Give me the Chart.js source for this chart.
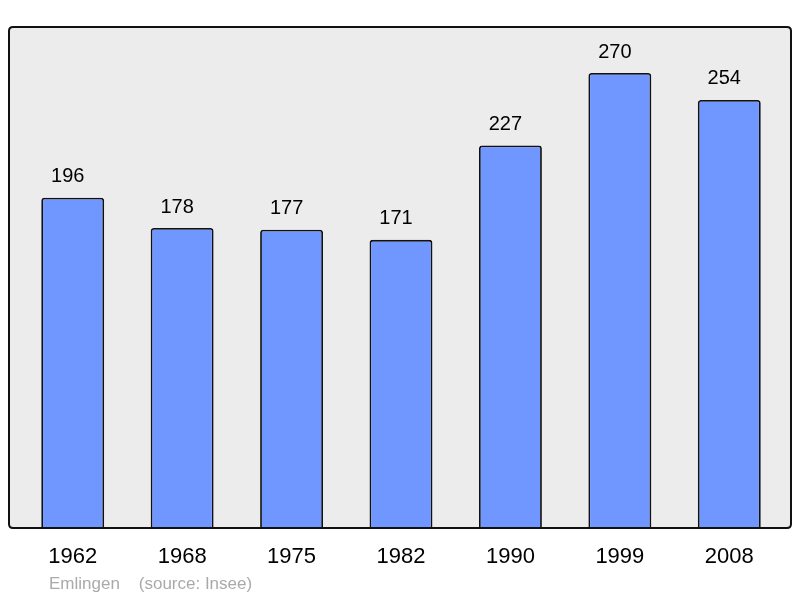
<!DOCTYPE html>
<html><head><meta charset="utf-8">
<script src="https://cdn.jsdelivr.net/npm/chart.js@4"></script>
<style>html,body{margin:0;padding:0;background:#fff}#w{width:800px;height:598px}</style>
</head><body><div id="w"><canvas id="c" width="800" height="598"></canvas></div>
<script>
const categories = ["1962","1968","1975","1982","1990","1999","2008"];
const population = [196,178,177,171,227,270,254];
const sourceText = "Emlingen    (source: Insee)";

function framePath(ctx){
  const x=9,y=27,w=782,h=501,r=4;
  ctx.beginPath();
  ctx.moveTo(x+r,y);ctx.lineTo(x+w-r,y);ctx.quadraticCurveTo(x+w,y,x+w,y+r);
  ctx.lineTo(x+w,y+h-r);ctx.quadraticCurveTo(x+w,y+h,x+w-r,y+h);
  ctx.lineTo(x+r,y+h);ctx.quadraticCurveTo(x,y+h,x,y+h-r);
  ctx.lineTo(x,y+r);ctx.quadraticCurveTo(x,y,x+r,y);ctx.closePath();
}
const framePlugin = {
  id:'frame',
  beforeDraw(chart){
    const ctx = chart.ctx;
    ctx.save();framePath(ctx);ctx.fillStyle='#ececec';ctx.fill();ctx.restore();
  },
  afterDatasetsDraw(chart){
    const ctx = chart.ctx;
    ctx.save();
    framePath(ctx);
    ctx.lineWidth=2;ctx.strokeStyle='#111';ctx.stroke();
    const xs = chart.scales.x, ys = chart.scales.y;
    ctx.fillStyle='#000';ctx.textAlign='center';ctx.textBaseline='middle';
    ctx.font='20px "Liberation Sans", Arial, sans-serif';
    population.forEach((v,i)=>{
      ctx.fillText(String(v), xs.getPixelForValue(i)-5, ys.getPixelForValue(v)-21);
    });
    ctx.font='22px "Liberation Sans", Arial, sans-serif';
    categories.forEach((c,i)=>{
      ctx.fillText(c, xs.getPixelForValue(i), 557);
    });
    ctx.textAlign='left';
    ctx.fillStyle='#aaaaaa';
    ctx.font='17px "Liberation Sans", Arial, sans-serif';
    ctx.fillText(sourceText, 49, 584);
    ctx.restore();
  }
};

new Chart(document.getElementById('c'),{
  type:'bar',
  data:{labels:categories,datasets:[{data:population,backgroundColor:'#7096ff',borderColor:'#111',borderWidth:1.8,borderRadius:3,borderSkipped:'bottom',barPercentage:0.575,categoryPercentage:1}]},
  options:{
    responsive:false,animation:false,
    layout:{padding:{left:18,right:16,top:27,bottom:70}},
    plugins:{legend:{display:false},tooltip:{enabled:false}},
    scales:{
      x:{display:false},
      y:{display:false,min:0,max:297.3}
    }
  },
  plugins:[framePlugin]
});
</script></body></html>
